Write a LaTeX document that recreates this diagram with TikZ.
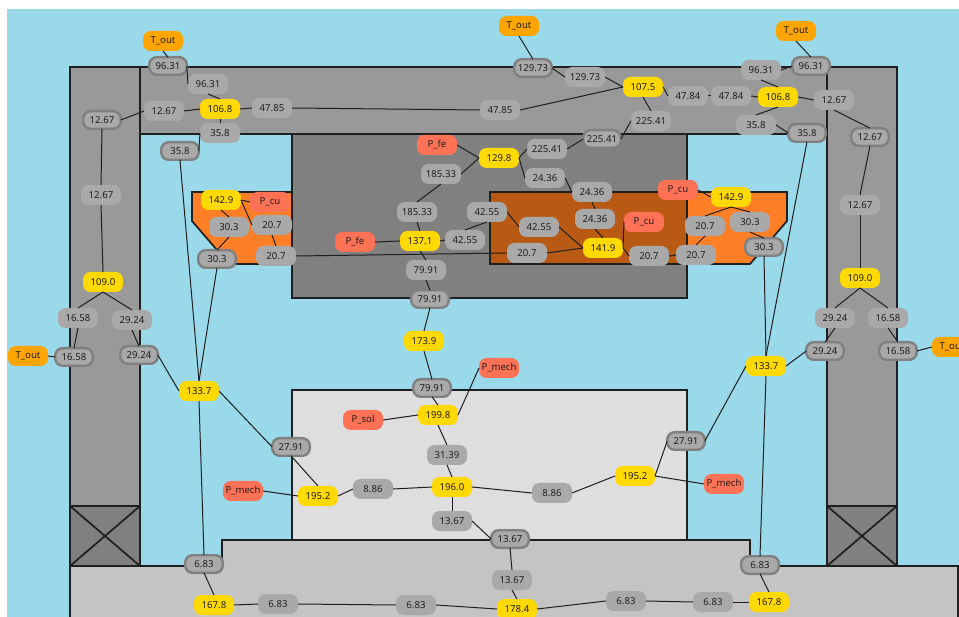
\documentclass[tikz,border=0pt]{standalone}
\usepackage{fontspec}
\setmainfont{Noto Sans}
\definecolor{SKY}{HTML}{9AD9EA}
\definecolor{WALLgray}{HTML}{999999}
\definecolor{IRONgray}{HTML}{808080}
\definecolor{CUlight}{HTML}{FF7F27}
\definecolor{CUdark}{HTML}{B85A14}
\definecolor{ROTORgray}{HTML}{DEDEDE}
\definecolor{HOUSEgray}{HTML}{C4C4C4}
\definecolor{TEMPyellow}{HTML}{FFD900}
\definecolor{LOSSred}{HTML}{FF7256}
\definecolor{OUTorange}{HTML}{FFA500}
\definecolor{RESgray}{HTML}{A9A9A9}
\definecolor{RIMgray}{HTML}{808080}
\tikzset{
  wall/.style={draw=black!88,line width=1.7pt},
  flow/.style={draw=black!88,line width=1pt},
  netbox/.style={rounded corners=7.5pt,minimum width=40pt,minimum height=20pt,inner sep=0pt,outer sep=0pt,font=\fontsize{9.6}{10}\selectfont,text=black!88},
  tempbox/.style={netbox,fill=TEMPyellow},
  lossbox/.style={netbox,fill=LOSSred},
  outbox/.style={netbox,fill=OUTorange},
  resbox/.style={netbox,fill=RESgray},
  rimbox/.style={netbox,fill=RESgray,draw=RIMgray,line width=2.4pt,minimum width=37.6pt,minimum height=17.6pt}
}

\begin{document}
\begin{tikzpicture}[x=1pt,y=-1pt]
  \useasboundingbox (0,0) rectangle (959,617);
  \fill[SKY] (7,9) rectangle (959,617);
  % machine cross section
  \draw[wall,fill=WALLgray] (140,67) rectangle (827,134);
  \draw[wall,fill=WALLgray] (70,67) rectangle (140,506);
  \draw[wall,fill=WALLgray] (827,67) rectangle (897,506);
  \draw[wall,fill=IRONgray] (292,134) rectangle (687,298);
  \draw[wall,fill=CUdark] (490,192) rectangle (687,264);
  \draw[wall,fill=CUlight] (192,192) -- (292,192) -- (292,264) -- (229,264) -- (192,221) -- cycle;
  \draw[wall,fill=CUlight] (687,192) -- (787,192) -- (787,221) -- (750,264) -- (687,264) -- cycle;
  \draw[wall,fill=ROTORgray] (292,390) rectangle (687,540);
  \draw[wall,fill=HOUSEgray] (70,625) -- (70,566) -- (222,566) -- (222,540) -- (750,540) -- (750,566) -- (958,566) -- (958,625);
  \foreach \x in {70,827} {
    \draw[wall,fill=IRONgray] (\x,506) rectangle (\x+70,566);
    \draw[wall] (\x,506) -- (\x+70,566) (\x,566) -- (\x+70,506);
  }
  % temperatures
  \foreach \nm/\x/\y/\val in {
    tA/220/109/106.8, tB/643/87/107.5, tC/778/97/106.8, tD/103/282/109.0, tE/860/278/109.0,
    tF/221/200/142.9, tG/731/197/142.9, tH/499/158/129.8, tI/420/241/137.1, tJ/603/248/141.9,
    tK/199/391/133.7, tL/766/366/133.7, tM/424/341/173.9, tN/438/415/199.8, tO/452/487/196.0,
    tP/318/496/195.2, tQ/635/476/195.2, tR/214/605/167.8, tS/517/609/178.4, tT/769/602/167.8}
    \node[tempbox] (\nm) at (\x,\y) {\val};
  % losses
  \foreach \nm/\x/\y/\val in {
    pA/270/202/P\_cu, pB/678/190/P\_cu, pC/644/222/P\_cu, pD/437/145/P\_fe, pE/355/242/P\_fe,
    pF/243/491/P\_mech, pG/499/368/P\_mech, pH/724/484/P\_mech, pI/363/420/P\_sol}
    \node[lossbox] (\nm) at (\x,\y) {\val};
  % outer temperature
  \foreach \nm/\x/\y in {oA/163/41,oB/519/26,oC/796/31,oD/28/356,oE/952/347}
    \node[outbox] (\nm) at (\x,\y) {T\_out};
  % resistances
  \foreach \nm/\x/\y/\val in {
    rA/208/84/96.31, rB/164/111/12.67, rC/101/195/12.67, rD/272/108/47.85, rE/500/110/47.85,
    rF/220/133/35.8, rG/229/227/30.3, rH/272/225/20.7, rI/276/256/20.7, rJ/78/318/16.58,
    rK/132/320/29.24, rL/585/77/129.73, rM/651/121/225.41, rN/547/149/225.41, rO/545/178/24.36,
    rP/592/192/24.36, rQ/595/219/24.36, rR/441/174/185.33, rS/417/212/185.33, rT/487/212/42.55,
    rU/539/227/42.55, rV/465/240/42.55, rW/527/253/20.7, rX/426/270/79.91, rY/649/256/20.7,
    rZ/696/255/20.7, sA/761/70/96.31, sB/688/96/47.84, sC/731/96/47.84, sD/834/100/12.67,
    sE/756/125/35.8, sF/860/205/12.67, sG/705/226/20.7, sH/750/222/30.3, sI/835/318/29.24,
    sJ/888/318/16.58, sK/447/455/31.39, sL/373/489/8.86, sM/552/493/8.86, sN/452/521/13.67,
    sO/512/580/13.67, sP/278/604/6.83, sQ/416/605/6.83, sR/626/601/6.83, sS/713/602/6.83}
    \node[resbox] (\nm) at (\x,\y) {\val};
  % contact resistances
  \foreach \nm/\x/\y/\val in {
    cA/168/66/96.31, cB/102/120/12.67, cC/180/151/35.8, cD/217/259/30.3, cE/74/357/16.58,
    cF/139/355/29.24, cG/533/68/129.73, cH/602/139/225.41, cI/430/299/79.91, cJ/811/66/96.31,
    cK/807/133/35.8, cL/870/137/12.67, cM/764/247/30.3, cN/825/351/29.24, cO/898/351/16.58,
    cP/432/388/79.91, cQ/291/447/27.91, cR/686/441/27.91, cS/510/539/13.67, cT/204/564/6.83,
    cU/760/565/6.83}
    \node[rimbox] (\nm) at (\x,\y) {\val};
  % connections
  \foreach \a/\b in {
    oA.south/cA.north, cA.east/rA.west, rA.south/tA.north, tA.west/rB.east, rB.west/cB.east,
    cB.south/rC.north, rC.south/tD.north, tD.south/rJ.north, tD.south/rK.north, rJ.south/cE.north,
    cE.west/oD.east, rK.south/cF.north, cF.east/tK.west, tA.east/rD.west, rD.east/rE.west,
    rE.east/tB.west, tA.south/rF.north, rF.west/cC.east, cC.south/tK.north, tF.south/rG.north,
    rG.south/cD.north, cD.south/tK.north, pA.west/tF.east, rH.west/tF.east, rH.south/rI.north,
    rI.east/rW.west, rW.east/tJ.west, tJ.north/rQ.south, rQ.north/rP.south, rP.west/rO.east,
    rO.west/tH.east, tH.east/rN.west, rN.east/cH.west, cH.east/rM.west, rM.north/tB.south,
    oB.south/cG.north, cG.east/rL.west, rL.east/tB.west, tB.east/sB.west, sB.east/sC.west,
    sC.east/tC.west, tC.north/sA.south, sA.east/cJ.west, cJ.north/oC.south, tC.east/sD.west,
    sD.south/cL.north, cL.south/sF.north, sF.south/tE.north, tE.south/sI.north, tE.south/sJ.north,
    sI.south/cN.north, sJ.south/cO.north, cO.east/oE.west, cN.west/tL.east, tC.south/sE.north,
    sE.east/cK.west, cK.south/tL.north, pB.east/tG.west, tG.south/sG.north, tG.south/sH.north,
    sH.south/cM.north, cM.south/tL.north, sG.south/rZ.north, rZ.west/rY.east, rY.west/tJ.east,
    pC.west/tJ.east, tI.east/rV.west, rV.north/rT.south, rT.east/rU.west, rU.east/tJ.west,
    tH.west/pD.east, tH.west/rR.east, rR.south/rS.north, rS.south/tI.north, pE.east/tI.west,
    tI.south/rX.north, rX.south/cI.north, cI.south/tM.north, tM.south/cP.north, cP.south/tN.north,
    pI.east/tN.west, pG.west/tN.east, tN.south/sK.north, sK.south/tO.north, tO.west/sL.east,
    sL.west/tP.east, tO.east/sM.west, sM.east/tQ.west, tO.south/sN.north, sN.east/cS.west,
    cS.south/sO.north, sO.south/tS.north, tS.west/sQ.east, sQ.west/sP.east, sP.west/tR.east,
    tR.north/cT.south, cT.north/tK.south, tK.east/cQ.west, cQ.south/tP.north, pF.east/tP.west,
    tS.east/sR.west, sR.east/sS.west, sS.east/tT.west, tT.north/cU.south, cU.north/tL.south,
    tL.west/cR.east, cR.west/tQ.east, tQ.east/pH.west}
    \draw[flow] (\a) -- (\b);
\end{tikzpicture}
\end{document}
